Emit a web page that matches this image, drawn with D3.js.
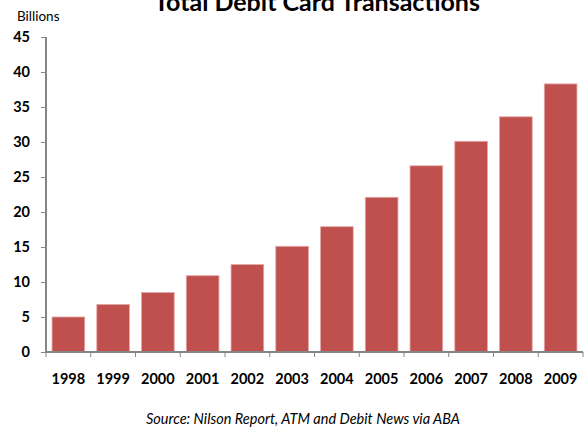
<!DOCTYPE html>
<html>
<head>
<meta charset="utf-8">
<script src="https://cdn.jsdelivr.net/npm/d3@7"></script>
<style>
  body { margin: 0; background: #fff; }
  text { font-family: Lato, "Open Sans", sans-serif; }
</style>
</head>
<body>
<script>
// data
var years = ['1998', '1999', '2000', '2001', '2002', '2003', '2004', '2005', '2006', '2007', '2008', '2009'];
var transactions = [5.0, 6.8, 8.5, 10.9, 12.5, 15.1, 17.9, 22.1, 26.6, 30.1, 33.6, 38.3];
var yTicks = [0, 5, 10, 15, 20, 25, 30, 35, 40, 45];

var w = 585, h = 428;
var plotLeft = 46, plotRight = 583, plotTop = 37, plotBottom = 352;

var svg = d3.select('body').append('svg')
  .attr('width', w)
  .attr('height', h);

var x = d3.scaleBand().domain(years).range([plotLeft, plotRight]).paddingInner(0.27).paddingOuter(0.135);
var y = d3.scaleLinear().domain([0, 45]).range([plotBottom, plotTop]);

// bars
svg.selectAll('.bar').data(transactions)
  .enter()
  .append('rect')
  .attr('class', 'bar')
  .attr('x', function(d, i) { return x(years[i]); })
  .attr('y', function(d) { return y(d); })
  .attr('width', x.bandwidth())
  .attr('height', function(d) { return plotBottom - y(d); })
  .style('fill', '#c0504d')
  .style('stroke', '#e3a9a7')
  .style('stroke-width', 0.8);

// y axis
var yAxis = svg.append('g')
  .attr('transform', 'translate(' + plotLeft + ',0)')
  .call(d3.axisLeft(y).tickValues(yTicks).tickSize(5).tickPadding(11));
yAxis.select('.domain').attr('stroke', '#868686').attr('stroke-width', 2).attr('d', 'M0,' + plotTop + 'V' + plotBottom);
yAxis.selectAll('.tick line').attr('stroke', '#868686');
yAxis.selectAll('.tick text').style('font-size', '14.5px').style('font-weight', 'bold').attr('fill', '#000');

// x axis, ticks between the categories
var xAxis = svg.append('g')
  .attr('transform', 'translate(0,' + plotBottom + ')');
xAxis.append('path')
  .attr('d', 'M' + plotLeft + ',0H' + plotRight)
  .attr('stroke', '#868686')
  .attr('stroke-width', 2);
xAxis.selectAll('.xtick').data(d3.range(years.length + 1))
  .enter()
  .append('line')
  .attr('x1', function(d) { return plotLeft + d * x.step(); })
  .attr('x2', function(d) { return plotLeft + d * x.step(); })
  .attr('y1', 0)
  .attr('y2', 5)
  .attr('stroke', '#868686');
xAxis.selectAll('.xlabel').data(years)
  .enter()
  .append('text')
  .attr('x', function(d) { return x(d) + x.bandwidth() / 2; })
  .attr('y', 32)
  .attr('text-anchor', 'middle')
  .style('font-size', '14.5px')
  .style('font-weight', 'bold')
  .text(function(d) { return d; });

// title, units and source
svg.append('text')
  .attr('x', 317).attr('y', 11)
  .attr('text-anchor', 'middle')
  .style('font-size', '25px')
  .style('font-weight', 'bold')
  .text('Total Debit Card Transactions');

svg.append('text')
  .attr('x', 17).attr('y', 21)
  .style('font-size', '13.5px')
  .text('Billions');

svg.append('text')
  .attr('x', 303).attr('y', 424)
  .attr('text-anchor', 'middle')
  .style('font-size', '14.5px')
  .style('font-style', 'italic')
  .text('Source: Nilson Report, ATM and Debit News via ABA');
</script>
</body>
</html>
